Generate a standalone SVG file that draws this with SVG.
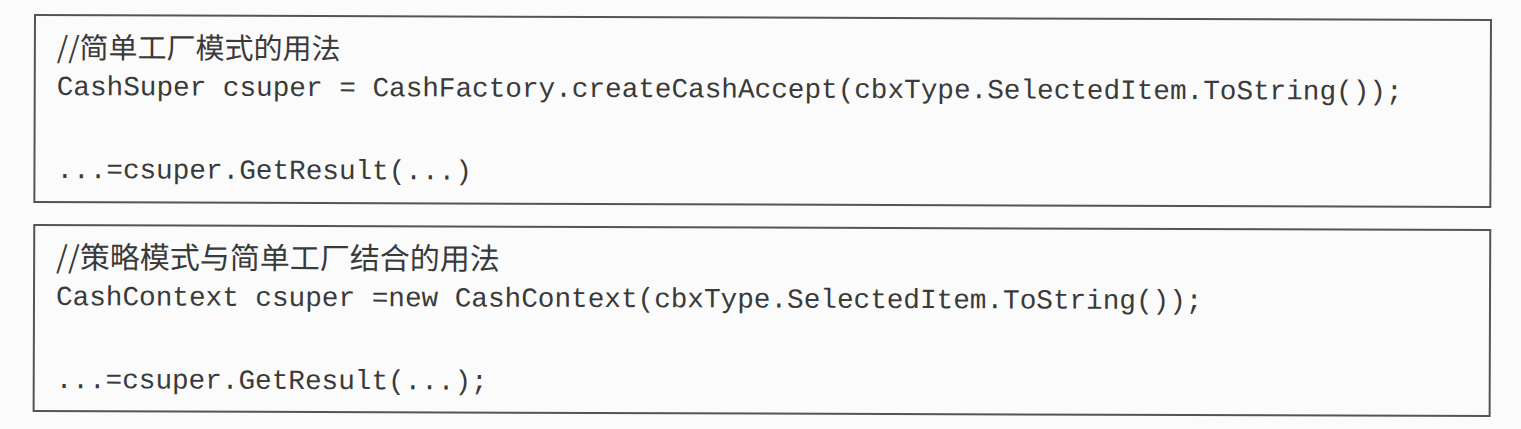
<svg xmlns="http://www.w3.org/2000/svg" width="1521" height="429" viewBox="0 0 1521 429">
<style>
.box{fill:none;stroke:#555;stroke-width:2}
.code{font-family:"Liberation Mono","Noto Sans CJK SC",monospace;font-size:27.7px;fill:#3a3a3a}
.cmt{font-family:"Noto Sans CJK SC",sans-serif;font-size:29px;fill:#3a3a3a}
</style>
<rect width="1521" height="429" fill="#fbfbfb"/>
<g transform="rotate(0.2 35 15)">
<g id="box-simple-factory">
<rect class="box" x="35" y="15" width="1456" height="187"/>
<text class="cmt" x="57" y="58">//简单工厂模式的用法</text>
<text class="code" x="57" y="95">CashSuper csuper = CashFactory.createCashAccept(cbxType.SelectedItem.ToString());</text>
<text class="code" x="57" y="178">...=csuper.GetResult(...)</text>
</g>
<g id="box-strategy-factory">
<rect class="box" x="35" y="225" width="1456" height="186"/>
<text class="cmt" x="57" y="268" style="font-size:30px">//策略模式与简单工厂结合的用法</text>
<text class="code" x="57" y="305">CashContext csuper =new CashContext(cbxType.SelectedItem.ToString());</text>
<text class="code" x="57" y="388">...=csuper.GetResult(...);</text>
</g>
</g>
<g id="connectors"/>
</svg>
